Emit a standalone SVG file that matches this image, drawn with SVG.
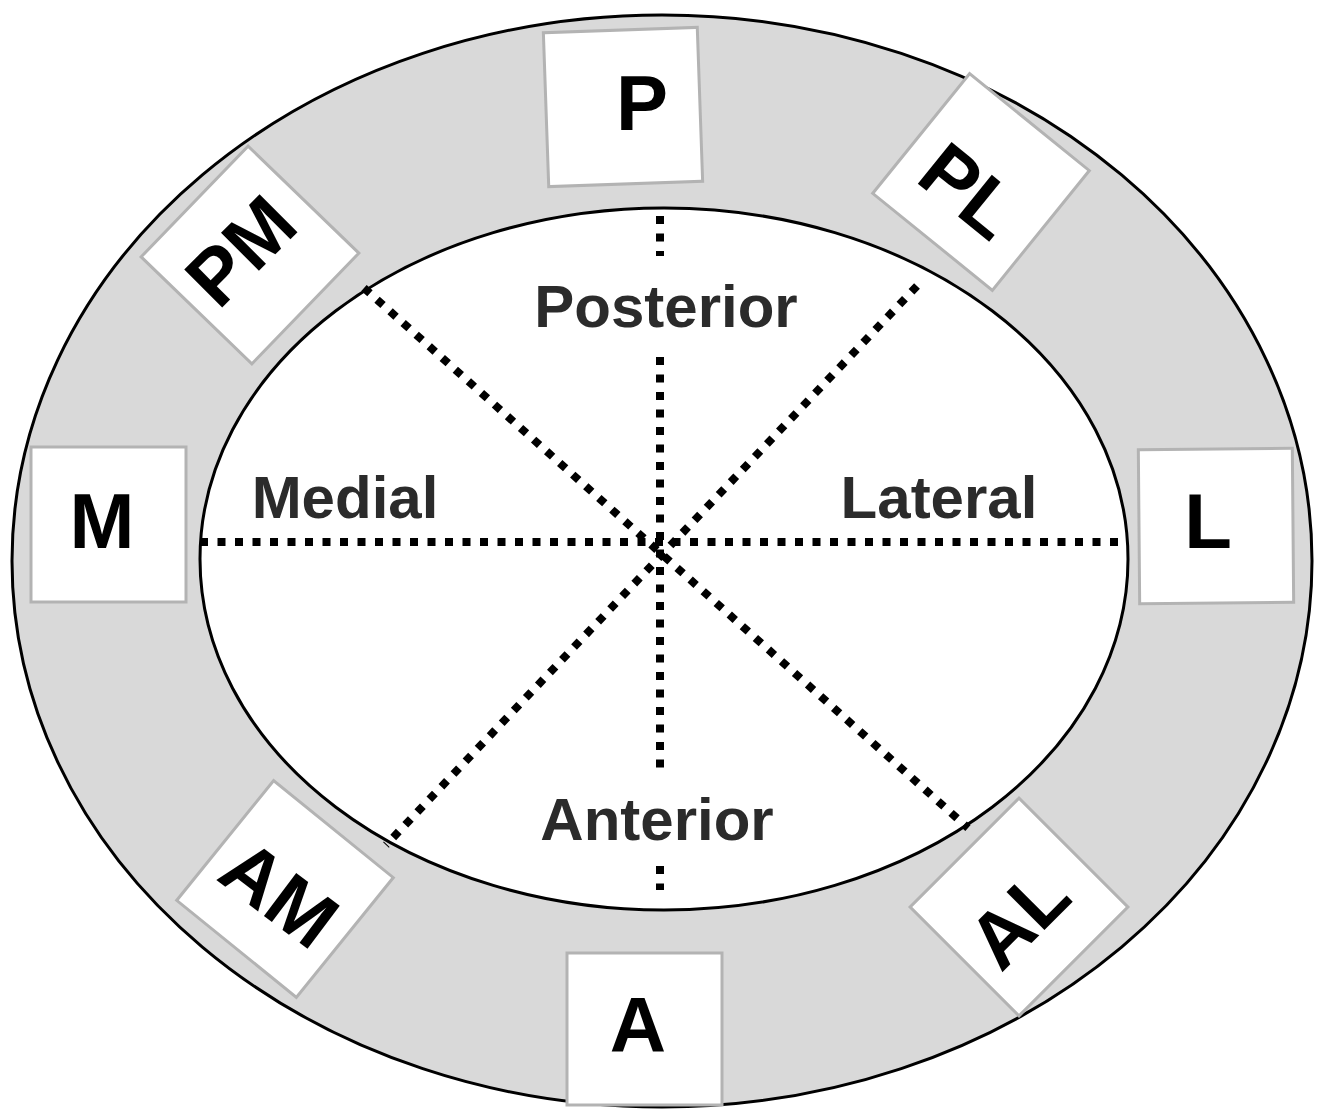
<svg xmlns="http://www.w3.org/2000/svg" width="1323" height="1115" viewBox="0 0 1323 1115">
<style>
.box{fill:#ffffff;stroke:#b3b3b3;stroke-width:3}
.lbl{font-family:"Liberation Sans",Arial,sans-serif;font-weight:bold;font-size:78px;fill:#000;text-anchor:middle}
.reg{font-family:"Liberation Sans",Arial,sans-serif;font-weight:bold;font-size:60px;fill:#2b2b2b;text-anchor:middle}
.dot{stroke:#000;stroke-width:8;stroke-dasharray:8 9.5;fill:none}
</style>
<rect width="1323" height="1115" fill="#ffffff"/>
<g id="outer-ring">
<ellipse cx="662" cy="561" rx="650" ry="546" fill="#d9d9d9" stroke="#000" stroke-width="3"/>
</g>
<g id="inner-field">
<ellipse cx="664" cy="559" rx="464" ry="351" fill="#ffffff" stroke="#000" stroke-width="3"/>
</g>
<g id="connectors">
<line class="dot" x1="200" y1="542" x2="1128" y2="542"/>
<line class="dot" x1="660" y1="216" x2="660" y2="256"/>
<line class="dot" x1="660" y1="357" x2="660" y2="768"/>
<line class="dot" x1="660" y1="866" x2="660" y2="890"/>
<line class="dot" x1="364" y1="288" x2="968" y2="828"/>
<line class="dot" x1="917" y1="286" x2="386" y2="845"/>
</g>
<g id="region-labels">
<text class="reg" x="666" y="327">Posterior</text>
<text class="reg" x="345" y="518">Medial</text>
<text class="reg" x="939" y="518">Lateral</text>
<text class="reg" x="657" y="840">Anterior</text>
</g>
<g id="node-P">
<rect class="box" x="-77" y="-77" width="154" height="154" transform="translate(623,107) rotate(-2)"/>
<text class="lbl" x="642" y="130">P</text>
</g>
<g id="node-PL">
<rect class="box" x="-77" y="-77" width="154" height="154" transform="translate(981,182) rotate(39)"/>
<text class="lbl" x="0" y="28" transform="translate(970,190) rotate(39)">PL</text>
</g>
<g id="node-PM">
<rect class="box" x="-77" y="-77" width="154" height="154" transform="translate(250,255) rotate(-46)"/>
<text class="lbl" x="0" y="28" transform="translate(240,250) rotate(-45)">PM</text>
</g>
<g id="node-M">
<rect class="box" x="31" y="447" width="155" height="155"/>
<text class="lbl" x="102" y="548">M</text>
</g>
<g id="node-L">
<rect class="box" x="-77" y="-77" width="154" height="154" transform="translate(1216,526) rotate(-0.5)"/>
<text class="lbl" x="1208" y="548">L</text>
</g>
<g id="node-AM">
<rect class="box" x="-77" y="-77" width="154" height="154" transform="translate(285,889) rotate(39)"/>
<text class="lbl" x="0" y="28" transform="translate(280,893) rotate(37)">AM</text>
</g>
<g id="node-A">
<rect class="box" x="567" y="953" width="155" height="152"/>
<text class="lbl" x="638" y="1052">A</text>
</g>
<g id="node-AL">
<rect class="box" x="-77" y="-77" width="154" height="154" transform="translate(1019,907) rotate(45)"/>
<text class="lbl" x="0" y="28" transform="translate(1018,917) rotate(-45)">AL</text>
</g>
</svg>
